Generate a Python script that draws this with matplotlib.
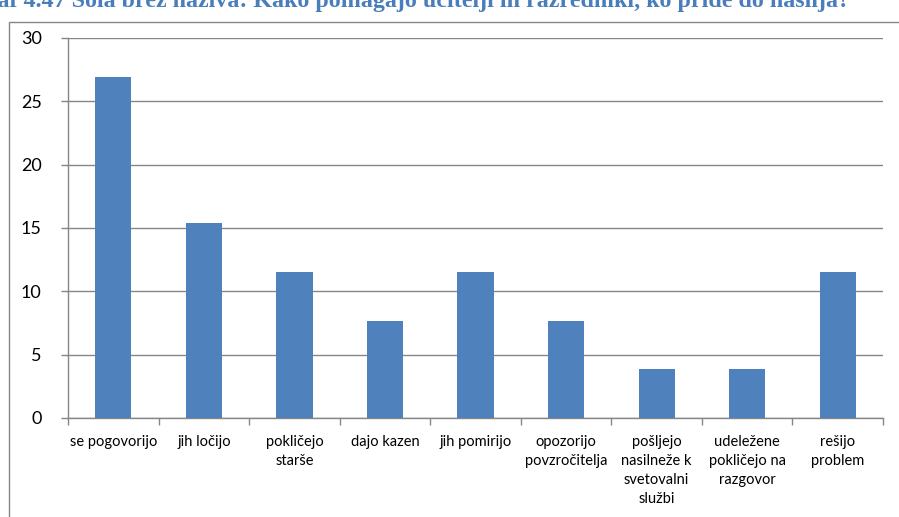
import matplotlib
matplotlib.use("Agg")
import matplotlib.pyplot as plt
from matplotlib.patches import Rectangle
import numpy as np

categories = ["se pogovorijo", "jih ločijo", "pokličejo\nstarše", "dajo kazen",
              "jih pomirijo", "opozorijo\npovzročitelja",
              "pošljejo\nnasilneže k\nsvetovalni\nslužbi",
              "udeležene\npokličejo na\nrazgovor", "rešijo\nproblem"]
values = [26.92, 15.38, 11.54, 7.69, 11.54, 7.69, 3.85, 3.85, 11.54]
yticks = [0, 5, 10, 15, 20, 25, 30]
title = "Graf 4.47 Šola brez naziva: Kako pomagajo učitelji in razredniki, ko pride do nasilja?"

W, H = 899, 517
fig = plt.figure(figsize=(W / 100, H / 100), dpi=100)
fig.patch.set_facecolor("white")

# outer chart frame (partially clipped)
frame = Rectangle((9 / W, -0.1), 1.2, 1 - 22 / H + 0.1, transform=fig.transFigure,
                  fill=False, edgecolor="#868686", linewidth=1.0)
fig.patches.append(frame)

# title (cut off at top)
fig.text(-32 / W, 1 - 6.5 / H, title, fontsize=17.3, fontweight="bold",
         family="Liberation Serif", color="#4A7EBB", ha="left", va="baseline")

ax = fig.add_axes([68 / W, 1 - 418 / H, (883 - 68) / W, (418 - 38) / H])
x = np.arange(len(categories))
ax.bar(x, values, width=0.4, color="#4F81BD", zorder=3)
ax.set_xlim(-0.5, len(categories) - 0.5)
ax.set_ylim(0, 30)
ax.set_yticks(yticks)
ax.set_yticklabels([str(v) for v in yticks], fontsize=13, family="Lato")
ax.yaxis.grid(True, color="#868686", linewidth=1.0, zorder=0)
ax.set_axisbelow(True)

ax.set_xticks(np.arange(len(categories) + 1) - 0.5)
ax.set_xticklabels([])
ax.set_xticks(x, minor=True)
ax.set_xticklabels(categories, minor=True, fontsize=10.5, family="Lato",
                   linespacing=1.45, va="top")
ax.tick_params(axis="x", which="minor", length=0, pad=12)
ax.tick_params(axis="x", which="major", length=5, color="#868686", width=1)
ax.tick_params(axis="y", length=5, color="#868686", width=1, pad=14)

for s in ["top", "right"]:
    ax.spines[s].set_visible(False)
for s in ["left", "bottom"]:
    ax.spines[s].set_color("#868686")
    ax.spines[s].set_linewidth(1.0)

fig.savefig("out.png", dpi=100)
